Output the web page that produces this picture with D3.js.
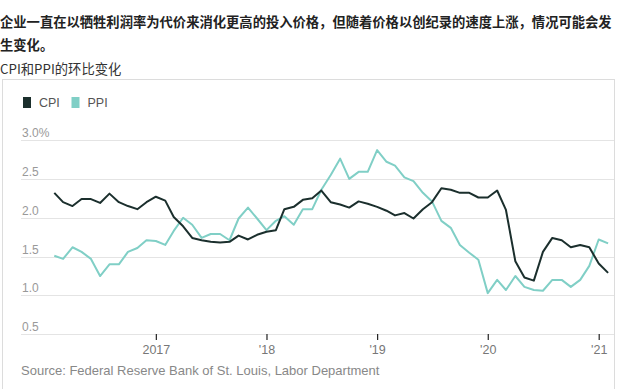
<!DOCTYPE html>
<html>
<head>
<meta charset="utf-8">
<script src="https://cdn.jsdelivr.net/npm/d3@7"></script>
<style>
  body { margin: 0; background: #fff; }
  svg { display: block; font-family: "Liberation Sans", Arial, sans-serif; }
</style>
</head>
<body>
<script>
// title lines
const titleLines = ['企业一直在以牺牲利润率为代价来消化更高的投入价格，但随着价格以创纪录的速度上涨，情况可能会发', '生变化。'];
const subtitle = 'CPI和PPI的环比变化';
const source = 'Source: Federal Reserve Bank of St. Louis, Labor Department';

// monthly values, Feb 2016 .. Feb 2021
const startMonth = new Date(2016, 1, 1);
const cpi = [2.32, 2.20, 2.15, 2.24, 2.24, 2.19, 2.31, 2.20, 2.15, 2.11, 2.20, 2.27,
  2.22, 2.01, 1.89, 1.74, 1.71, 1.69, 1.68, 1.69, 1.77, 1.72, 1.78, 1.82,
  1.84, 2.11, 2.14, 2.23, 2.25, 2.35, 2.20, 2.17, 2.13, 2.21, 2.18, 2.14,
  2.09, 2.03, 2.06, 1.99, 2.11, 2.20, 2.38, 2.36, 2.32, 2.32, 2.26, 2.26,
  2.35, 2.10, 1.44, 1.23, 1.19, 1.56, 1.74, 1.71, 1.62, 1.65, 1.62, 1.41, 1.29];
const ppi = [1.51, 1.47, 1.62, 1.56, 1.47, 1.25, 1.40, 1.40, 1.56, 1.61, 1.71, 1.70,
  1.65, 1.83, 2.00, 1.91, 1.74, 1.79, 1.79, 1.71, 1.99, 2.13, 1.99, 1.84,
  1.96, 2.02, 1.91, 2.11, 2.11, 2.36, 2.55, 2.76, 2.50, 2.59, 2.59, 2.87,
  2.72, 2.67, 2.52, 2.47, 2.32, 2.21, 1.96, 1.87, 1.65, 1.55, 1.46, 1.03,
  1.20, 1.07, 1.25, 1.11, 1.07, 1.06, 1.20, 1.20, 1.11, 1.20, 1.38, 1.72, 1.67];

const yTicks = [0.5, 1.0, 1.5, 2.0, 2.5, 3.0];
const xTicks = [new Date(2017, 0, 1), new Date(2018, 0, 1), new Date(2019, 0, 1), new Date(2020, 0, 1), new Date(2021, 0, 1)];
const xTickLabels = ['2017', "'18", "'19", "'20", "'21"];

const series = [
  {name: 'CPI', values: cpi, color: '#1b2f2d'},
  {name: 'PPI', values: ppi, color: '#80cfc6'}
];

const width = 619, height = 389;
const months = d3.timeMonth.range(startMonth, d3.timeMonth.offset(startMonth, cpi.length));

const svg = d3.select('body').append('svg')
  .attr('width', width)
  .attr('height', height);

// title
svg.append('g').selectAll('text')
  .data(titleLines)
  .enter().append('text')
  .attr('x', 0)
  .attr('y', (d, i) => 26.5 + i * 23.5)
  .attr('font-family', '"Noto Sans CJK SC", sans-serif')
  .attr('font-size', 13.3)
  .attr('font-weight', 'bold')
  .attr('fill', '#222')
  .text(d => d);

svg.append('text')
  .attr('x', 0)
  .attr('y', 74)
  .attr('font-family', '"Noto Sans CJK SC", sans-serif')
  .attr('font-size', 13.3)
  .attr('fill', '#333')
  .text(subtitle);

// box around chart
svg.append('rect')
  .attr('x', 2.5).attr('y', 79.5)
  .attr('width', 612).attr('height', 330)
  .attr('fill', 'none')
  .attr('stroke', '#dcdcdc');

const x = d3.scaleTime()
  .domain([months[0], months[months.length - 1]])
  .range([54.3, 608.1]);
const y = d3.scaleLinear()
  .domain([0.5, 3.0])
  .range([334.3, 140]);

// grid
const grid = svg.append('g');
grid.selectAll('line')
  .data(yTicks)
  .enter().append('line')
  .attr('x1', 21).attr('x2', 614)
  .attr('y1', d => Math.round(y(d)) + 0.5)
  .attr('y2', d => Math.round(y(d)) + 0.5)
  .attr('stroke', '#e4e4e4')
  .attr('stroke-width', 1);
grid.selectAll('text')
  .data(yTicks)
  .enter().append('text')
  .attr('x', 22)
  .attr('y', d => y(d) - 3)
  .attr('font-size', 12)
  .attr('fill', '#999')
  .text(d => d === 3.0 ? d3.format('.1f')(d) + '%' : d3.format('.1f')(d));

// x axis
const xAxis = d3.axisBottom(x)
  .tickValues(xTicks)
  .tickSize(6)
  .tickFormat((d, i) => xTickLabels[i]);
const xg = svg.append('g')
  .attr('transform', 'translate(0,334)')
  .call(xAxis);
xg.select('.domain').remove();
xg.selectAll('.tick line').attr('stroke', '#222').attr('stroke-width', 1.2);
xg.selectAll('.tick text')
  .attr('font-family', '"Liberation Sans", Arial, sans-serif')
  .attr('font-size', 12.5)
  .attr('fill', '#777')
  .attr('dy', '0.9em');

// lines
const line = d3.line()
  .x((d, i) => x(months[i]))
  .y(d => y(d));

svg.append('g').selectAll('path')
  .data(series.slice().reverse())
  .enter().append('path')
  .attr('d', d => line(d.values))
  .attr('fill', 'none')
  .attr('stroke', d => d.color)
  .attr('stroke-width', 2)
  .attr('stroke-linejoin', 'round');

// legend
const legend = svg.append('g').attr('transform', 'translate(23,97)');
const lg = legend.selectAll('g')
  .data(series)
  .enter().append('g')
  .attr('transform', (d, i) => 'translate(' + (i * 48.5) + ',0)');
lg.append('rect')
  .attr('width', 8).attr('height', 11)
  .attr('fill', d => d.color);
lg.append('text')
  .attr('x', 16).attr('y', 10)
  .attr('font-size', 12.5)
  .attr('fill', '#555')
  .text(d => d.name);

// source
svg.append('text')
  .attr('x', 21)
  .attr('y', 374.5)
  .attr('font-size', 13)
  .attr('fill', '#888')
  .text(source);
</script>
</body>
</html>
